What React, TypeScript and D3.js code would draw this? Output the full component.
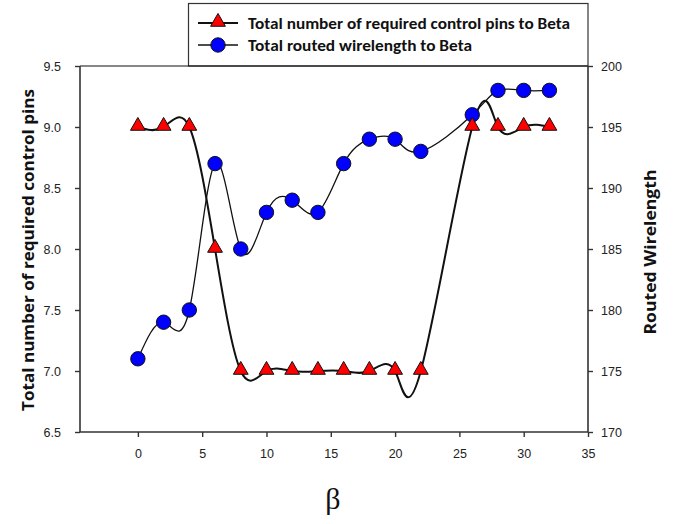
import * as React from 'react';
import * as d3 from 'd3';

const beta = [0, 2, 4, 6, 8, 10, 12, 14, 16, 18, 20, 22, 26, 28, 30, 32];
const controlPins = [9, 9, 9, 8, 7, 7, 7, 7, 7, 7, 7, 7, 9, 9, 9, 9];
const wirelength = [176, 179, 180, 192, 185, 188, 189, 188, 192, 194, 194, 193, 196, 198, 198, 198];
const xTicks = [0, 5, 10, 15, 20, 25, 30, 35];
const leftTicks = [6.5, 7.0, 7.5, 8.0, 8.5, 9.0, 9.5];
const rightTicks = [170, 175, 180, 185, 190, 195, 200];
const legendLabels = ['Total number of required control pins to Beta', 'Total routed wirelength to Beta'];

export default function App() {
  const ref = React.useRef<SVGSVGElement>(null);

  React.useEffect(() => {
    const width = 682;
    const height = 524;
    const margin = {top: 66, right: 94, bottom: 92, left: 80};

    const svg = d3.select(ref.current);
    svg.selectAll('*').remove();
    svg.attr('width', width).attr('height', height);

    const x = d3.scaleLinear().domain([-4.5, 35]).range([margin.left, width - margin.right]);
    const yL = d3.scaleLinear().domain([6.5, 9.5]).range([height - margin.bottom, margin.top]);
    const yR = d3.scaleLinear().domain([170, 200]).range([height - margin.bottom, margin.top]);

    const axisColor = '#333';
    const tickFont = '"Liberation Sans", Arial, sans-serif';

    // legend box, sitting on the top frame
    svg.append('rect')
      .attr('x', 188.5).attr('y', 3.5)
      .attr('width', x(35) - 188.5).attr('height', margin.top - 3.5)
      .attr('fill', 'white').attr('stroke', axisColor).attr('stroke-width', 1.2);

    // top frame line
    svg.append('line')
      .attr('x1', x(-4.5)).attr('x2', x(35))
      .attr('y1', margin.top).attr('y2', margin.top)
      .attr('stroke', '#111').attr('stroke-width', 1.2);

    const gL = svg.append('g').attr('transform', `translate(${margin.left},0)`)
      .call(d3.axisLeft(yL).tickValues(leftTicks).tickFormat(d3.format('.1f')).tickSize(5).tickPadding(14));
    const gR = svg.append('g').attr('transform', `translate(${width - margin.right},0)`)
      .call(d3.axisRight(yR).tickValues(rightTicks).tickSize(5).tickPadding(8));
    const gB = svg.append('g').attr('transform', `translate(0,${height - margin.bottom})`)
      .call(d3.axisBottom(x).tickValues(xTicks).tickSize(5).tickPadding(12));

    [gL, gR, gB].forEach(g => {
      g.select('.domain').attr('stroke', axisColor).attr('stroke-width', 1.6);
      g.selectAll('.tick line').attr('stroke', axisColor).attr('stroke-width', 1.4);
      g.selectAll('.tick text').attr('fill', '#222').style('font-family', tickFont).style('font-size', '12.5px');
    });
    // plain domain lines, no end stubs
    gL.select('.domain').attr('d', `M0,${yL(9.5)}V${yL(6.5)}`);
    gR.select('.domain').attr('d', `M0,${yR(200)}V${yR(170)}`);
    gB.select('.domain').attr('d', `M${x(-4.5)},0H${x(35)}`);

    const pinsLine = d3.line<number>()
      .x((d, i) => x(beta[i]))
      .y(d => yL(d))
      .curve(d3.curveNatural);
    const wireLine = d3.line<number>()
      .x((d, i) => x(beta[i]))
      .y(d => yR(d))
      .curve(d3.curveNatural);

    svg.append('path').datum(wirelength)
      .attr('fill', 'none').attr('stroke', '#111').attr('stroke-width', 1.3)
      .attr('d', wireLine);
    svg.append('path').datum(controlPins)
      .attr('fill', 'none').attr('stroke', '#111').attr('stroke-width', 2)
      .attr('d', pinsLine);

    const tri = d3.symbol(d3.symbolTriangle, 95)();

    svg.append('g').selectAll('circle').data(wirelength).join('circle')
      .attr('cx', (d, i) => x(beta[i])).attr('cy', d => yR(d)).attr('r', 7.2)
      .attr('fill', '#0000ff').attr('stroke', '#111').attr('stroke-width', 1);

    svg.append('g').selectAll('path').data(controlPins).join('path')
      .attr('d', tri)
      .attr('transform', (d, i) => `translate(${x(beta[i])},${yL(d) - 1})`)
      .attr('fill', '#ff0000').attr('stroke', '#111').attr('stroke-width', 1);

    // legend entries
    const legendFont = 'Carlito, Calibri, "Open Sans", sans-serif';
    const rows = [23, 45];
    rows.forEach((ry, i) => {
      svg.append('line')
        .attr('x1', 198).attr('x2', 238).attr('y1', ry).attr('y2', ry)
        .attr('stroke', '#111').attr('stroke-width', i === 0 ? 2 : 1.3);
      if (i === 0) {
        svg.append('path').attr('d', tri)
          .attr('transform', `translate(218,${ry - 1})`)
          .attr('fill', '#ff0000').attr('stroke', '#111');
      } else {
        svg.append('circle').attr('cx', 218).attr('cy', ry).attr('r', 7.2)
          .attr('fill', '#0000ff').attr('stroke', '#111');
      }
      svg.append('text')
        .attr('x', 248).attr('y', ry + 5.5)
        .attr('textLength', i === 0 ? 322 : 224)
        .attr('lengthAdjust', 'spacingAndGlyphs')
        .style('font-family', legendFont).style('font-size', '16px').style('font-weight', 600)
        .attr('fill', '#111')
        .text(legendLabels[i]);
    });

    // axis titles
    svg.append('text')
      .attr('transform', `translate(28,${(yL(9.5) + yL(6.5)) / 2 + 1}) rotate(-90)`)
      .attr('text-anchor', 'middle')
      .attr('dy', '0.35em')
      .attr('textLength', 322).attr('lengthAdjust', 'spacingAndGlyphs')
      .style('font-family', '"Open Sans", sans-serif').style('font-size', '16px').style('font-weight', 700)
      .attr('fill', '#111')
      .text('Total number of required control pins');
    svg.append('text')
      .attr('transform', 'translate(650,252) rotate(-90)')
      .attr('text-anchor', 'middle')
      .attr('dy', '0.35em')
      .attr('textLength', 165).attr('lengthAdjust', 'spacingAndGlyphs')
      .style('font-family', '"Open Sans", sans-serif').style('font-size', '16px').style('font-weight', 700)
      .attr('fill', '#111')
      .text('Routed Wirelength');

    svg.append('text')
      .attr('x', 333).attr('y', 509)
      .attr('text-anchor', 'middle')
      .style('font-family', '"Liberation Serif", serif').style('font-size', '30px')
      .attr('fill', '#111')
      .text('β');
  }, []);

  return (
    <svg ref={ref} style={{position: 'absolute', left: 0, top: 0, background: 'white'}}></svg>
  );
}
